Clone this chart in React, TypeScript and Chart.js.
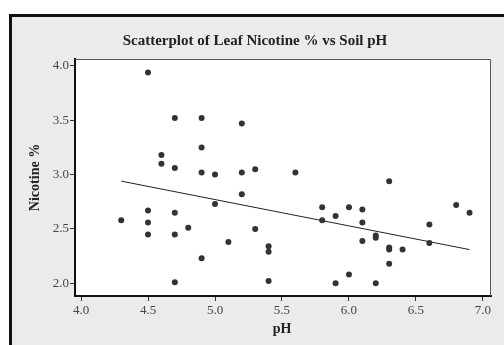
import React, { useEffect, useRef } from "react";
import { Chart, registerables } from "chart.js";

Chart.register(...registerables);

const phValues = [
  4.3, 4.5, 4.5, 4.5, 4.5, 4.6, 4.6, 4.7, 4.7, 4.7, 4.7, 4.7, 4.8, 4.9, 4.9, 4.9, 4.9,
  5.0, 5.0, 5.1, 5.2, 5.2, 5.2, 5.3, 5.3, 5.4, 5.4, 5.4, 5.6, 5.8, 5.8, 5.9, 5.9,
  6.0, 6.0, 6.1, 6.1, 6.1, 6.2, 6.2, 6.2, 6.3, 6.3, 6.3, 6.3, 6.4, 6.6, 6.6, 6.8, 6.9,
];
const nicotineValues = [
  2.58, 3.94, 2.67, 2.56, 2.45, 3.18, 3.10, 3.52, 3.06, 2.65, 2.45, 2.01, 2.51, 3.52, 3.25, 3.02, 2.23,
  3.0, 2.73, 2.38, 3.47, 3.02, 2.82, 3.05, 2.5, 2.34, 2.29, 2.02, 3.02, 2.7, 2.58, 2.62, 2.0,
  2.7, 2.08, 2.68, 2.56, 2.39, 2.44, 2.42, 2.0, 2.94, 2.33, 2.31, 2.18, 2.31, 2.54, 2.37, 2.72, 2.65,
];
const fitX = [4.3, 6.9];
const fitY = [2.94, 2.31];
const xTickValues = [4.0, 4.5, 5.0, 5.5, 6.0, 6.5, 7.0];
const yTickValues = [2.0, 2.5, 3.0, 3.5, 4.0];

const titleText = "Scatterplot of Leaf Nicotine % vs Soil pH";
const xTitle = "pH";
const yTitle = "Nicotine %";

const SERIF = '"Liberation Serif", "Times New Roman", serif';

const framePlugin = {
  id: "framePlugin",
  beforeDraw(chart: any) {
    const ctx = chart.ctx;
    const { width, height } = chart;
    const ca = chart.chartArea;
    ctx.save();
    ctx.fillStyle = "#ffffff";
    ctx.fillRect(0, 0, width, height);
    ctx.fillStyle = "#ebebeb";
    ctx.fillRect(9, 14, width, height);
    ctx.fillStyle = "#111111";
    ctx.fillRect(9, 14, width, 3);
    ctx.fillRect(9, 14, 3, height);
    ctx.fillStyle = "#ffffff";
    ctx.fillRect(ca.left, ca.top, ca.right - ca.left, ca.bottom - ca.top);
    ctx.restore();
  },
  afterDraw(chart: any) {
    const ctx = chart.ctx;
    const ca = chart.chartArea;
    ctx.save();
    ctx.strokeStyle = "#555555";
    ctx.lineWidth = 1;
    ctx.beginPath();
    ctx.moveTo(ca.left, ca.top + 0.5);
    ctx.lineTo(ca.right - 0.5, ca.top + 0.5);
    ctx.lineTo(ca.right - 0.5, ca.bottom);
    ctx.stroke();

    ctx.fillStyle = "#222222";
    ctx.textAlign = "center";
    ctx.textBaseline = "middle";
    ctx.font = `bold 15px ${SERIF}`;
    ctx.fillText(titleText, 255, 41);

    ctx.font = `bold 14px ${SERIF}`;
    ctx.fillText(xTitle, (ca.left + ca.right) / 2 - 1, 329);

    ctx.translate(35, (ca.top + ca.bottom) / 2);
    ctx.rotate(-Math.PI / 2);
    ctx.fillText(yTitle, 0, 0);
    ctx.restore();
  },
};

export default function App() {
  const canvasRef = useRef<HTMLCanvasElement | null>(null);

  useEffect(() => {
    if (!canvasRef.current) return;
    const points = phValues.map((x, i) => ({ x, y: nicotineValues[i] }));
    const fitLine = fitX.map((x, i) => ({ x, y: fitY[i] }));
    const chart = new Chart(canvasRef.current, {
      type: "scatter",
      data: {
        datasets: [
          {
            data: points,
            pointRadius: 3,
            pointBackgroundColor: "#333333",
            pointBorderColor: "#333333",
            pointBorderWidth: 0,
          },
          {
            data: fitLine,
            showLine: true,
            pointRadius: 0,
            borderColor: "#222222",
            borderWidth: 1,
          } as any,
        ],
      },
      options: {
        animation: false,
        responsive: false,
        layout: { padding: { top: 59, right: 13, left: 0, bottom: 0 } },
        plugins: {
          legend: { display: false },
          title: { display: false },
          tooltip: { enabled: false },
        },
        scales: {
          x: {
            type: "linear",
            min: 3.955,
            max: 7.06,
            afterFit: (scale: any) => {
              scale.height = 49;
            },
            afterBuildTicks: (scale: any) => {
              scale.ticks = xTickValues.map((v) => ({ value: v }));
            },
            grid: {
              drawOnChartArea: false,
              drawTicks: true,
              tickLength: 5,
              tickColor: "#333333",
            },
            border: { display: true, color: "#111111", width: 2 },
            ticks: {
              padding: 2,
              color: "#444444",
              font: { family: SERIF, size: 13 },
              callback: (v: any) => Number(v).toFixed(1),
            },
          },
          y: {
            type: "linear",
            min: 1.883,
            max: 4.064,
            afterFit: (scale: any) => {
              scale.width = 75;
            },
            afterBuildTicks: (scale: any) => {
              scale.ticks = yTickValues.map((v) => ({ value: v }));
            },
            grid: {
              drawOnChartArea: false,
              drawTicks: true,
              tickLength: 5,
              tickColor: "#333333",
            },
            border: { display: true, color: "#111111", width: 2 },
            ticks: {
              padding: 1,
              color: "#444444",
              font: { family: SERIF, size: 13 },
              callback: (v: any) => Number(v).toFixed(1),
            },
          },
        },
      },
      plugins: [framePlugin],
    });
    return () => chart.destroy();
  }, []);

  return (
    <div style={{ position: "absolute", left: 0, top: 0, width: 504, height: 345 }}>
      <canvas ref={canvasRef} width={504} height={345} style={{ width: 504, height: 345 }} />
    </div>
  );
}
